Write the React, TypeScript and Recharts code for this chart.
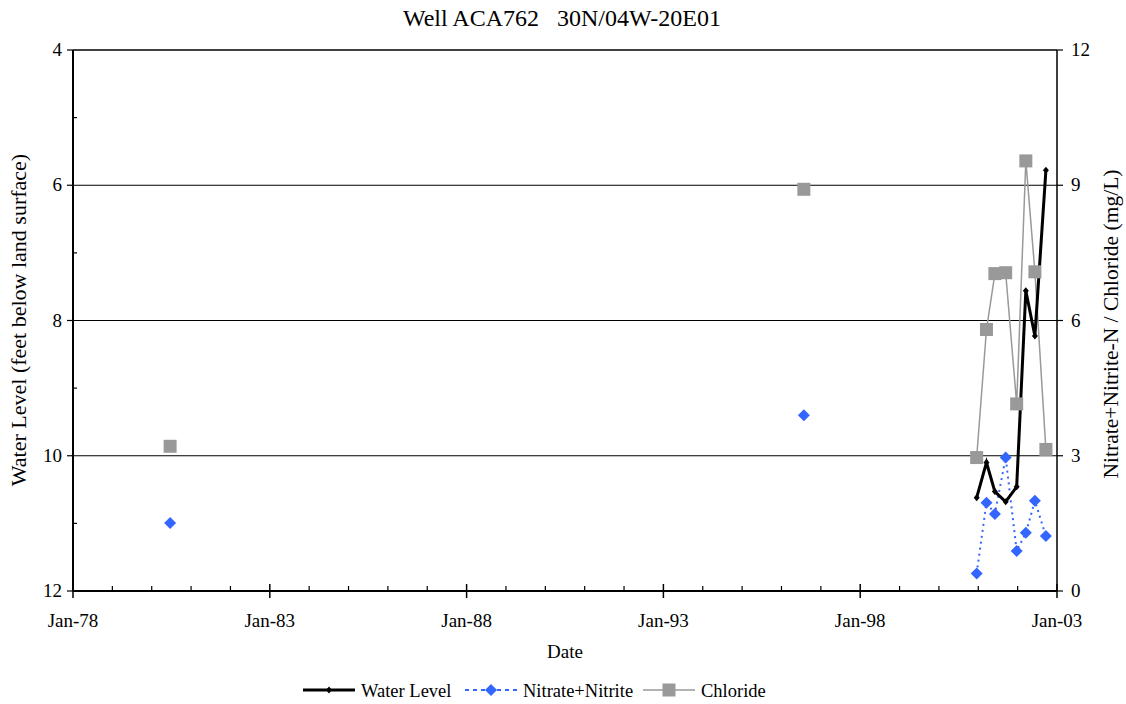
import { ComposedChart, Line, XAxis, YAxis, ReferenceLine } from "recharts";

// sample dates
const sampleDates = [
  "1980-06-20",
  "1996-07-27",
  "2000-12-17",
  "2001-03-18",
  "2001-06-04",
  "2001-09-12",
  "2001-12-23",
  "2002-03-18",
  "2002-06-10",
  "2002-09-20",
];
const waterLevel = [null, null, 10.62, 10.1, 10.53, 10.68, 10.46, 7.56, 8.23, 5.78];
const nitrate = [1.51, 3.9, 0.39, 1.96, 1.71, 2.96, 0.89, 1.29, 2.0, 1.22];
const chloride = [3.21, 8.91, 2.96, 5.8, 7.04, 7.06, 4.15, 9.54, 7.08, 3.14];
// blank rows in the sheet so the old samples are not joined to the recent ones
const gapDates = ["1988-01-01", "1998-06-01"];

const yearTicks = Array.from({ length: 26 }, (_, i) => 1978 + i);
const leftTicks = [4, 5, 6, 7, 8, 9, 10, 11, 12];
const rightTicks = [0, 3, 6, 9, 12];
const gridLevels = [6, 8, 10];

const FONT = "'Liberation Serif', 'Times New Roman', serif";

const toYear = (s: string) => {
  const [y, m, d] = s.split("-").map(Number);
  const start = Date.UTC(y, 0, 1);
  const end = Date.UTC(y + 1, 0, 1);
  return y + (Date.UTC(y, m - 1, d) - start) / (end - start);
};

const rows = [
  ...sampleDates.map((d, i) => ({ t: toYear(d), wl: waterLevel[i], no3: nitrate[i], cl: chloride[i] })),
  ...gapDates.map((d) => ({ t: toYear(d), wl: null, no3: null, cl: null })),
].sort((a, b) => a.t - b.t);

const ok = (p: any) => p && p.cx != null && p.cy != null && p.value != null && !Number.isNaN(p.cy);

const SmallDiamond = (p: any) =>
  ok(p) ? (
    <polygon key={p.index} points={`${p.cx},${p.cy - 3.5} ${p.cx + 3},${p.cy} ${p.cx},${p.cy + 3.5} ${p.cx - 3},${p.cy}`} fill="#000" />
  ) : (
    <g key={p.index} />
  );

const BlueDiamond = (p: any) =>
  ok(p) ? (
    <polygon key={p.index} points={`${p.cx},${p.cy - 6} ${p.cx + 6},${p.cy} ${p.cx},${p.cy + 6} ${p.cx - 6},${p.cy}`} fill="#3366ff" />
  ) : (
    <g key={p.index} />
  );

const GraySquare = (p: any) =>
  ok(p) ? <rect key={p.index} x={p.cx - 6.5} y={p.cy - 6.5} width={13} height={13} fill="#999999" /> : <g key={p.index} />;

const XTick = ({ x, y, payload }: any) => {
  const yr = payload.value as number;
  const major = (yr - 1978) % 5 === 0;
  return (
    <g>
      {major ? <line x1={x} x2={x} y1={y - 7} y2={y + 7} stroke="#000" strokeWidth={1.5} /> : <line x1={x} x2={x} y1={y - 5} y2={y} stroke="#000" strokeWidth={1.2} />}
      {major && (
        <text x={x} y={y + 36} textAnchor="middle" fontSize={19} fontFamily={FONT} fill="#000">
          {"Jan-" + String(yr % 100).padStart(2, "0")}
        </text>
      )}
    </g>
  );
};

const LeftTick = ({ x, y, payload }: any) => {
  const v = payload.value as number;
  const major = v % 2 === 0;
  return (
    <g>
      {major ? <line x1={x - 6} x2={x} y1={y} y2={y} stroke="#000" strokeWidth={1.2} /> : <line x1={x} x2={x + 4} y1={y} y2={y} stroke="#000" strokeWidth={1.2} />}
      {major && (
        <text x={x - 11} y={y + 6} textAnchor="end" fontSize={19} fontFamily={FONT} fill="#000">
          {v}
        </text>
      )}
    </g>
  );
};

const RightTick = ({ x, y, payload }: any) => (
  <g>
    <line x1={x} x2={x + 6} y1={y} y2={y} stroke="#000" strokeWidth={1.2} />
    <text x={x + 14} y={y + 6} textAnchor="start" fontSize={19} fontFamily={FONT} fill="#000">
      {payload.value}
    </text>
  </g>
);

const legendItems = [
  { label: "Water Level", x: 303, kind: "wl" },
  { label: "Nitrate+Nitrite", x: 465, kind: "no3" },
  { label: "Chloride", x: 643, kind: "cl" },
];

export default function App() {
  return (
    <div style={{ position: "absolute", left: 0, top: 0, width: 1126, height: 704, background: "#fff", fontFamily: FONT }}>
      <svg style={{ position: "absolute", left: 0, top: 0 }} width={1126} height={40}>
        <text x={562} y={26} textAnchor="middle" fontSize={24} fontFamily={FONT} fill="#000" style={{ whiteSpace: "pre" }} xmlSpace="preserve">
          {"Well ACA762   30N/04W-20E01"}
        </text>
      </svg>
      <ComposedChart width={1126} height={704} data={rows} margin={{ top: 50, right: 19, bottom: 73, left: 23 }}>
        <XAxis
          dataKey="t"
          type="number"
          domain={[1978, 2003]}
          ticks={yearTicks}
          interval={0}
          allowDataOverflow
          height={40}
          tickLine={false}
          tickSize={0}
          tickMargin={0}
          axisLine={{ stroke: "#000", strokeWidth: 2 }}
          tick={<XTick />}
          label={{
            content: () => (
              <text x={565} y={658} textAnchor="middle" fontSize={19} fontFamily={FONT} fill="#000">
                Date
              </text>
            ),
          }}
        />
        <YAxis
          yAxisId="left"
          type="number"
          reversed
          domain={[4, 12]}
          ticks={leftTicks}
          interval={0}
          allowDataOverflow
          width={50}
          tickLine={false}
          tickSize={0}
          tickMargin={0}
          axisLine={{ stroke: "#000", strokeWidth: 2 }}
          tick={<LeftTick />}
          label={{
            content: () => (
              <text transform="translate(26,320) rotate(-90)" textAnchor="middle" fontSize={22} fontFamily={FONT} fill="#000">
                Water Level (feet below land surface)
              </text>
            ),
          }}
        />
        <YAxis
          yAxisId="right"
          orientation="right"
          type="number"
          domain={[0, 12]}
          ticks={rightTicks}
          interval={0}
          allowDataOverflow
          width={50}
          tickLine={false}
          tickSize={0}
          tickMargin={0}
          axisLine={{ stroke: "#000", strokeWidth: 1.5 }}
          tick={<RightTick />}
          label={{
            content: () => (
              <text transform="translate(1118,324) rotate(-90)" textAnchor="middle" fontSize={21.5} fontFamily={FONT} fill="#000">
                Nitrate+Nitrite-N / Chloride (mg/L)
              </text>
            ),
          }}
        />
        <ReferenceLine yAxisId="left" y={4} stroke="#000" strokeWidth={1.5} />
        {gridLevels.map((g) => (
          <ReferenceLine key={g} yAxisId="left" y={g} stroke="#000" strokeWidth={1} />
        ))}
        <Line
          yAxisId="right"
          dataKey="cl"
          stroke="#999999"
          strokeWidth={1.5}
          dot={<GraySquare />}
          activeDot={false}
          isAnimationActive={false}
        />
        <Line
          yAxisId="right"
          dataKey="no3"
          stroke="#3366ff"
          strokeWidth={2}
          strokeDasharray="2 4"
          dot={<BlueDiamond />}
          activeDot={false}
          isAnimationActive={false}
        />
        <Line
          yAxisId="left"
          dataKey="wl"
          stroke="#000"
          strokeWidth={3}
          dot={<SmallDiamond />}
          activeDot={false}
          isAnimationActive={false}
        />
      </ComposedChart>
      <svg style={{ position: "absolute", left: 0, top: 676 }} width={1126} height={28}>
        {legendItems.map((it) => (
          <g key={it.kind}>
            {it.kind === "wl" && (
              <>
                <line x1={it.x} x2={it.x + 52} y1={14} y2={14} stroke="#000" strokeWidth={3} />
                <polygon points={`${it.x + 26},${10.5} ${it.x + 29},${14} ${it.x + 26},${17.5} ${it.x + 23},${14}`} fill="#000" />
              </>
            )}
            {it.kind === "no3" && (
              <>
                <line x1={it.x} x2={it.x + 52} y1={14} y2={14} stroke="#3366ff" strokeWidth={2} strokeDasharray="4 4" />
                <polygon points={`${it.x + 26},${8} ${it.x + 32},${14} ${it.x + 26},${20} ${it.x + 20},${14}`} fill="#3366ff" />
              </>
            )}
            {it.kind === "cl" && (
              <>
                <line x1={it.x} x2={it.x + 52} y1={14} y2={14} stroke="#999999" strokeWidth={1.5} />
                <rect x={it.x + 19.5} y={7.5} width={13} height={13} fill="#999999" />
              </>
            )}
            <text x={it.x + 58} y={21} fontSize={18.5} fontFamily={FONT} fill="#000">
              {it.label}
            </text>
          </g>
        ))}
      </svg>
    </div>
  );
}
